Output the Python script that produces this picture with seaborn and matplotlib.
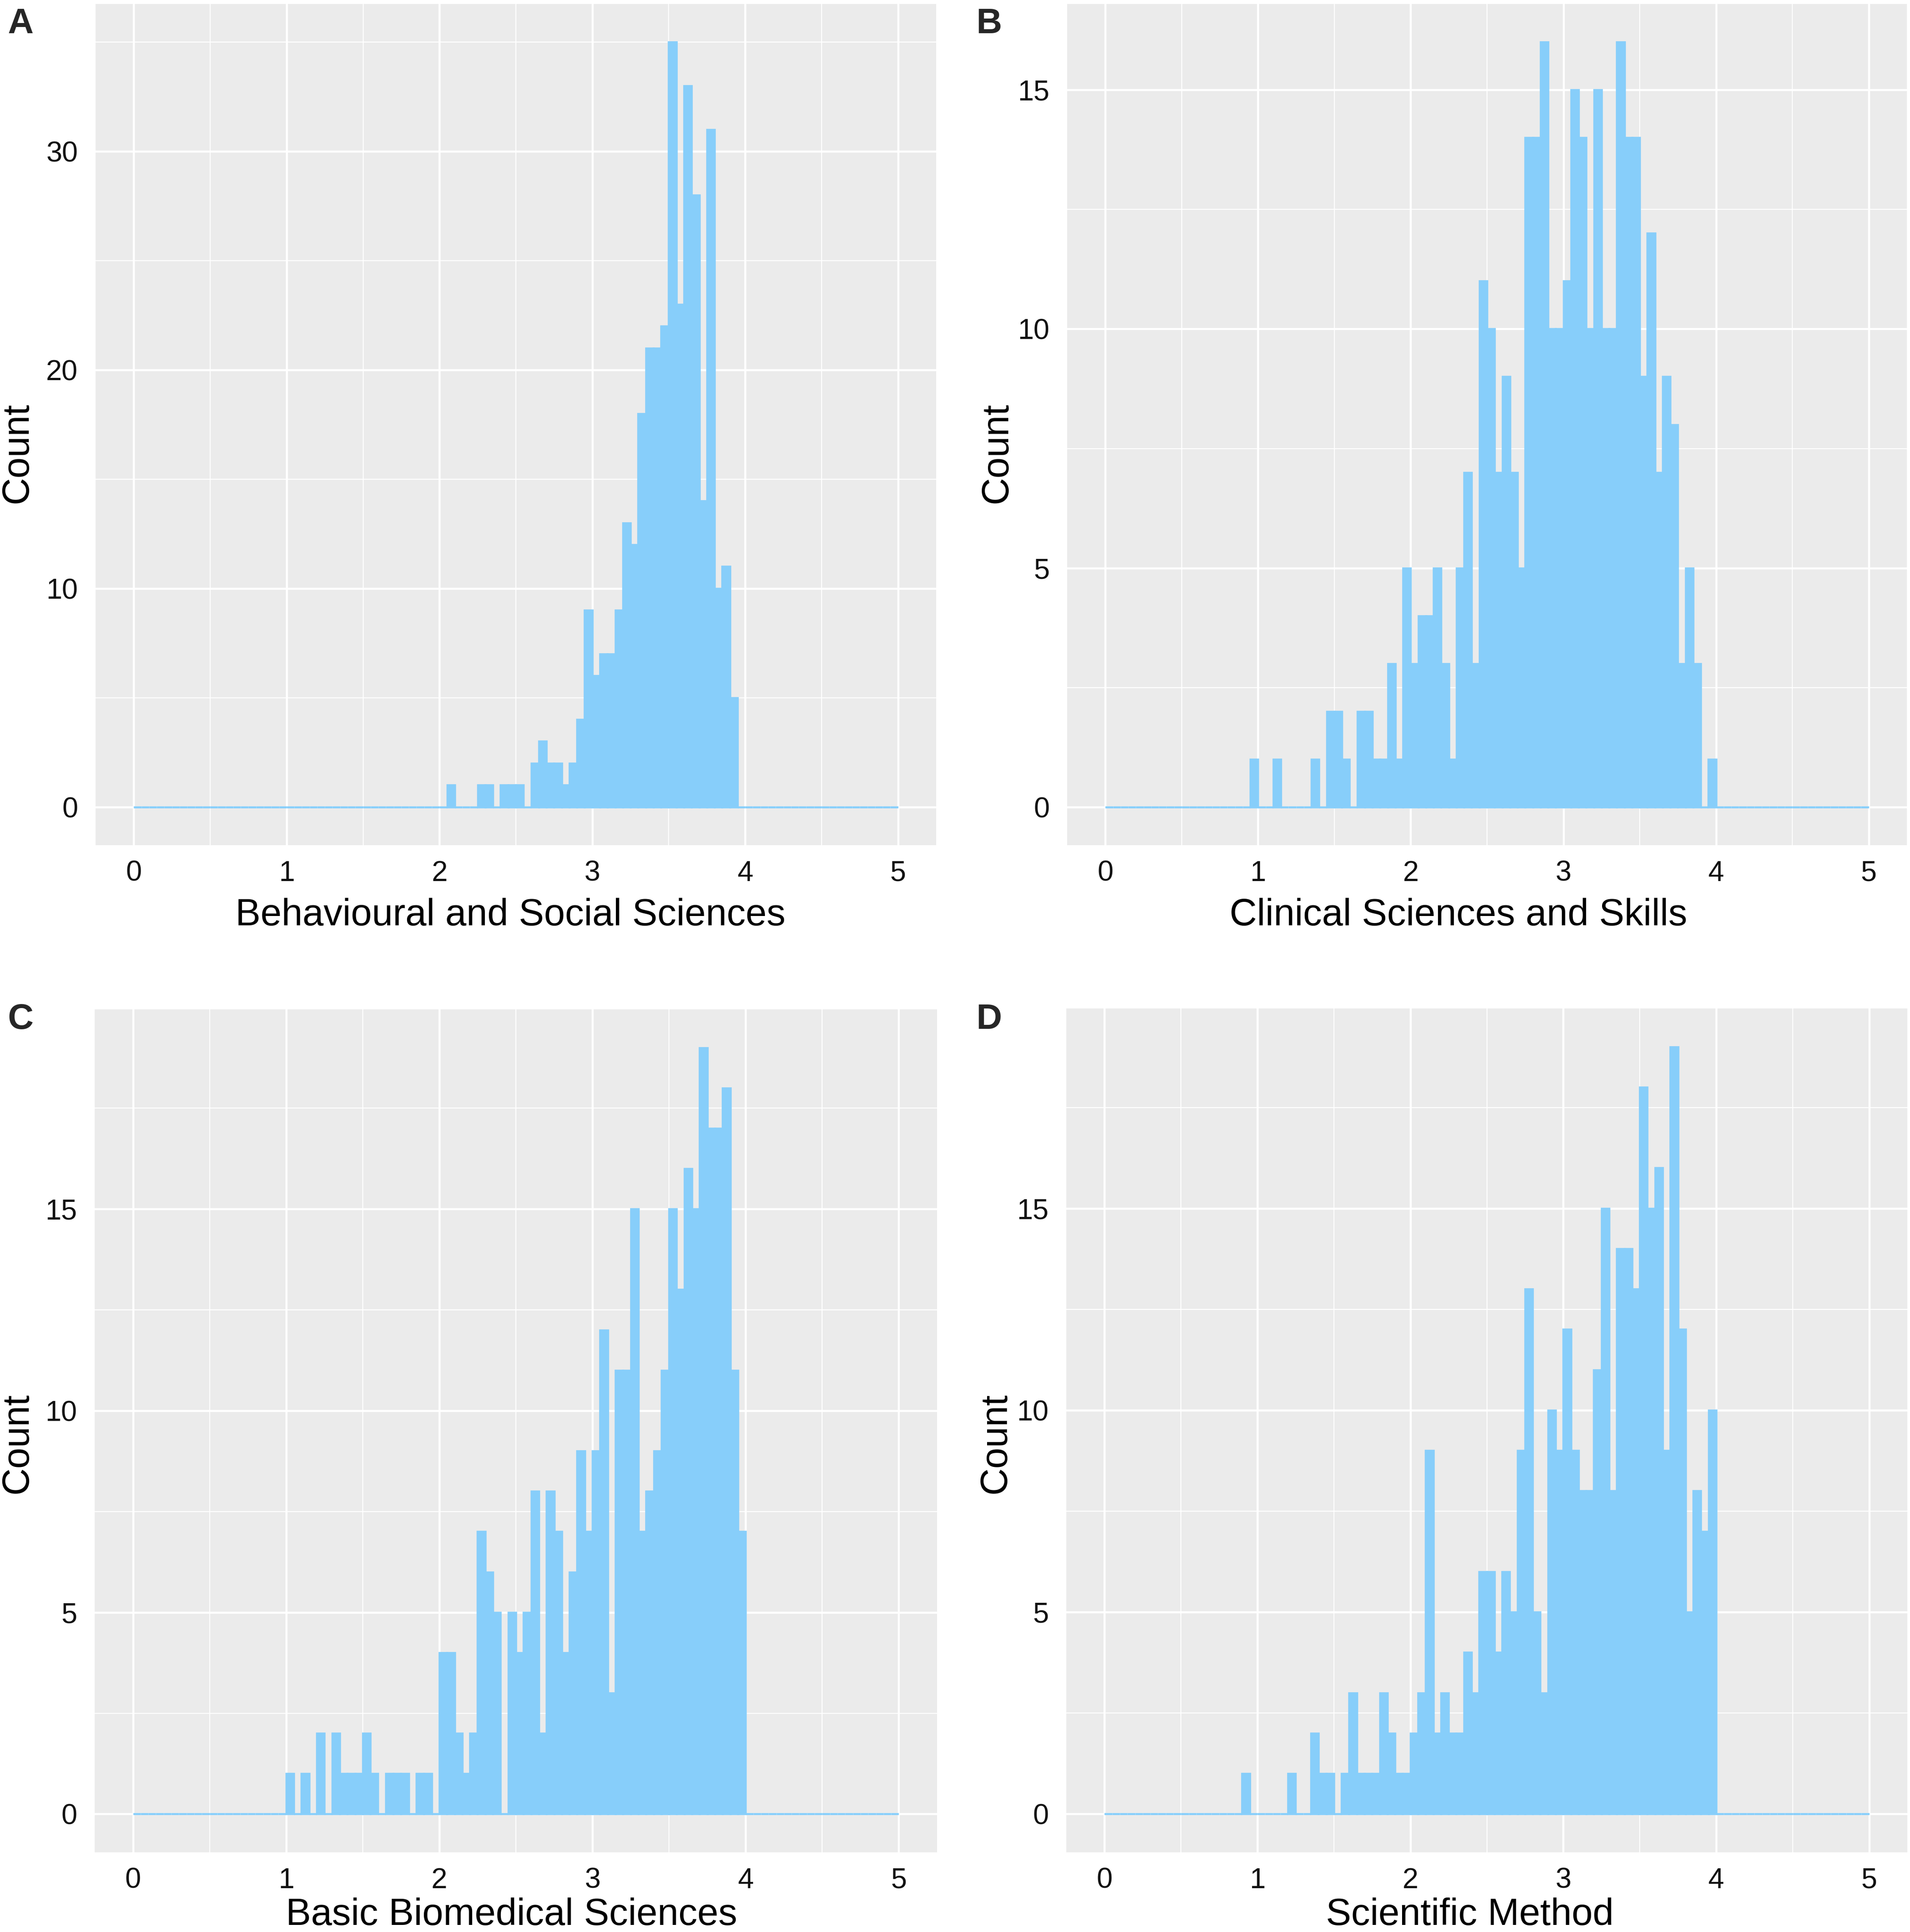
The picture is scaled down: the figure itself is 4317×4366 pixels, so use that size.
import numpy as np
import pandas as pd
import matplotlib
matplotlib.use("Agg")
import matplotlib.pyplot as plt
import seaborn as sns

####################################################################
# data: counts per bin (100 bins of width 0.05 on [0, 5]),
# listed from the first non-empty bin onwards

bin_edges = np.linspace(0, 5, 101)

behav_start = 41
behav_counts = [1, 0, 0, 0, 1, 1, 0, 1, 1, 1, 0, 2, 3, 2, 2, 1, 2, 4, 9, 6,
                7, 7, 9, 13, 12, 18, 21, 21, 22, 35, 23, 33, 28, 14, 31, 10,
                11, 5]

clin_start = 19
clin_counts = [1, 0, 0, 1, 0, 0, 0, 0, 1, 0, 2, 2, 1, 0, 2, 2, 1, 1, 3, 1,
               5, 3, 4, 4, 5, 3, 1, 5, 7, 3, 11, 10, 7, 9, 7, 5, 14, 14, 16,
               10, 10, 11, 15, 14, 10, 15, 10, 10, 16, 14, 14, 9, 12, 7, 9,
               8, 3, 5, 3, 0, 1]

biomed_start = 20
biomed_counts = [1, 0, 1, 0, 2, 0, 2, 1, 1, 1, 2, 1, 0, 1, 1, 1, 0, 1, 1, 0,
                 4, 4, 2, 1, 2, 7, 6, 5, 0, 5, 4, 5, 8, 2, 8, 7, 4, 6, 9, 7,
                 9, 12, 3, 11, 11, 15, 7, 8, 9, 11, 15, 13, 16, 15, 19, 17,
                 17, 18, 11, 7]

method_start = 18
method_counts = [1, 0, 0, 0, 0, 0, 1, 0, 0, 2, 1, 1, 0, 1, 3, 1, 1, 1, 3, 2,
                 1, 1, 2, 3, 9, 2, 3, 2, 2, 4, 3, 6, 6, 4, 6, 5, 9, 13, 5, 3,
                 10, 9, 12, 9, 8, 8, 11, 15, 8, 14, 14, 13, 18, 15, 16, 9, 19,
                 12, 5, 8, 7, 10]

titles = ["Behavioural and Social Sciences", "Clinical Sciences and Skills",
          "Basic Biomedical Sciences", "Scientific Method"]
letters = ["A", "B", "C", "D"]

####################################################################

W, H, DPI = 4317, 4366, 300
BAR = "#87CEFA"

sns.set_style("darkgrid")
plt.rcParams["font.family"] = ["Liberation Sans", "DejaVu Sans"]


def full_counts(start, counts):
    """
    Expands a partial count list to all 100 bins
    """
    out = np.zeros(len(bin_edges) - 1)
    out[start:start + len(counts)] = counts
    return out


def px_rect(x0, y0, x1, y1):
    return [x0 / W, 1 - y1 / H, (x1 - x0) / W, (y1 - y0) / H]


def plot_hist(fig, rect, counts, major_y, minor_y, title, xlab_px, count_px):
    ax = fig.add_axes(rect)
    df = pd.DataFrame({"score": bin_edges[:-1] + 0.025, "n": counts})
    sns.histplot(data=df, x="score", weights="n", bins=list(bin_edges), ax=ax,
                 color=BAR, edgecolor=BAR, linewidth=1.1, alpha=1)

    ymax = counts.max()
    ax.set_xlim(-0.25, 5.25)
    ax.set_ylim(-0.05 * ymax, 1.05 * ymax)

    ax.set_facecolor("#EBEBEB")
    ax.set_axisbelow(True)
    ax.set_xticks(range(6))
    ax.set_xticks(np.arange(0.5, 5, 1), minor=True)
    ax.set_yticks(major_y)
    ax.set_yticks(minor_y, minor=True)
    ax.grid(which="major", color="white", linewidth=1.1)
    ax.grid(which="minor", color="white", linewidth=0.55)
    for s in ax.spines.values():
        s.set_visible(False)

    ax.tick_params(which="major", length=2.6, width=1.0, color="#333333",
                   labelsize=15.5, labelcolor="#111111")
    ax.tick_params(axis="y", pad=7)
    ax.tick_params(axis="x", pad=5.5)
    ax.tick_params(which="minor", length=0)

    ax.set_xlabel(title, fontsize=20.5, color="black", va="baseline")
    ax.xaxis.set_label_coords(xlab_px[0] / W, 1 - xlab_px[1] / H,
                              transform=fig.transFigure)
    ax.set_ylabel("Count", fontsize=20.5, color="black", ha="center", va="center")
    ax.yaxis.set_label_coords(count_px[0] / W, 1 - count_px[1] / H,
                              transform=fig.transFigure)
    return ax


fig = plt.figure(figsize=(W / DPI, H / DPI), dpi=DPI)

panels = [
    (px_rect(216, 9, 2116, 1910), full_counts(behav_start, behav_counts),
     [0, 10, 20, 30], [5, 15, 25, 35], (1154, 2091), (40, 1023), (18, 75)),
    (px_rect(2412, 9, 4310, 1910), full_counts(clin_start, clin_counts),
     [0, 5, 10, 15], [2.5, 7.5, 12.5], (3296, 2091), (2254, 1023), (2207, 75)),
    (px_rect(214, 2281, 2118, 4186), full_counts(biomed_start, biomed_counts),
     [0, 5, 10, 15], [2.5, 7.5, 12.5, 17.5], (1156, 4350), (40, 3261), (18, 2325)),
    (px_rect(2410, 2279, 4311, 4186), full_counts(method_start, method_counts),
     [0, 5, 10, 15], [2.5, 7.5, 12.5, 17.5], (3322, 4350), (2251, 3261), (2207, 2325)),
]

for (rect, counts, major_y, minor_y, xlab_px, count_px, let_px), title, letter in zip(panels, titles, letters):
    plot_hist(fig, rect, counts, major_y, minor_y, title, xlab_px, count_px)
    fig.text(let_px[0] / W, 1 - let_px[1] / H, letter, fontsize=19.3,
             fontweight="bold", ha="left", va="baseline")

fig.savefig("out.png", dpi=DPI, facecolor="white")
